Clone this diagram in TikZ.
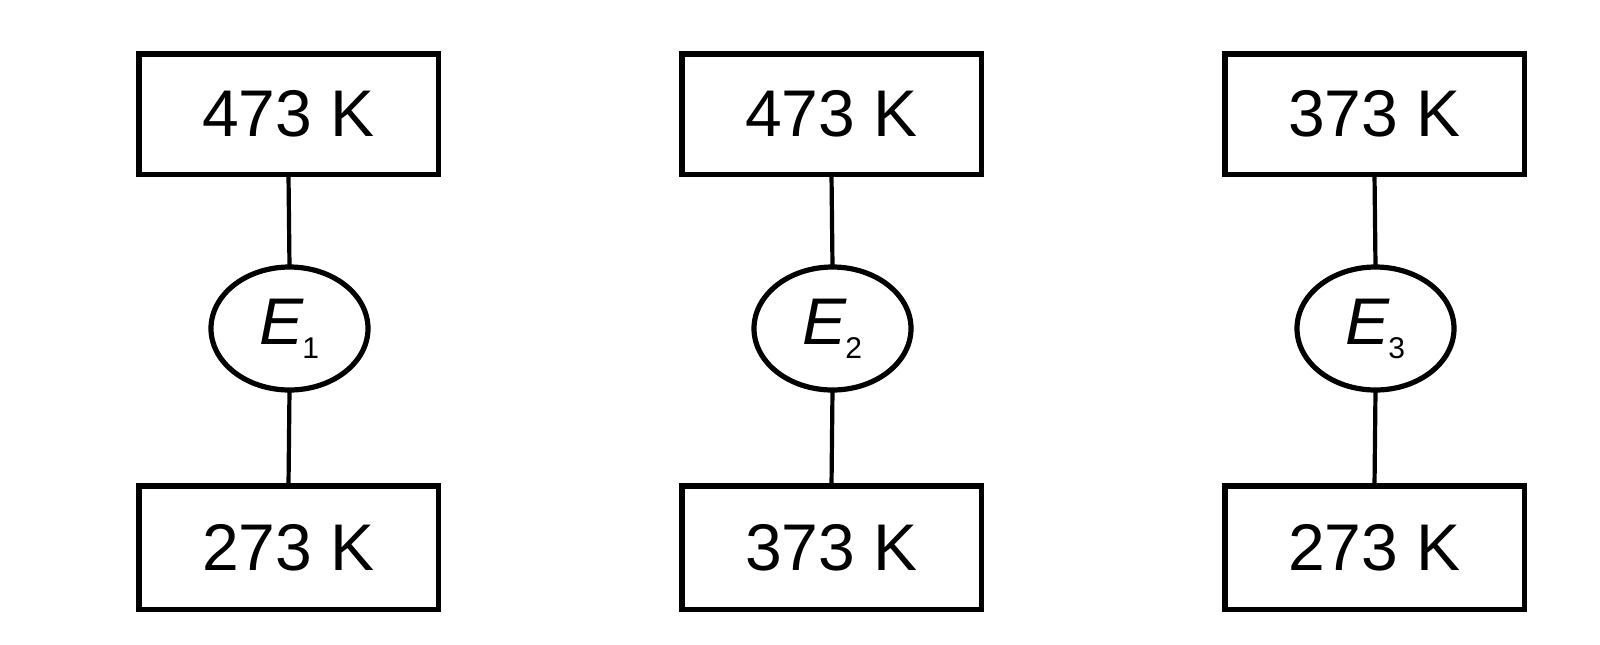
\documentclass[tikz,border=0pt]{standalone}
\usepackage{fontspec}
\setmainfont{Liberation Sans}
\usetikzlibrary{shapes.geometric}
\begin{document}
\begin{tikzpicture}[x=0.5pt,y=-0.5pt,
  tbox/.style={draw, line width=2.75pt, minimum width=149.75pt, inner sep=0pt, outer sep=0pt, font=\fontsize{33}{40}\selectfont},
  topbox/.style={tbox, minimum height=60.25pt},
  botbox/.style={tbox, minimum height=61.75pt},
  eng/.style={draw, ellipse, line width=2.6pt, minimum width=78.5pt, minimum height=61.5pt, inner sep=0pt, outer sep=0pt, font=\fontsize{33}{40}\selectfont},
  link/.style={line width=2.1pt}]
\useasboundingbox (0,0) rectangle (1600,644);
\newcommand{\engname}[1]{\textit{E}\kern-1pt\raisebox{-7pt}{\fontsize{15}{15}\selectfont #1}}
% column 1
\node[topbox] (t1) at (288.5,114) {473 K};
\node[eng] (e1) at (289.5,328.5) {\engname{1}};
\node[botbox] (b1) at (288.5,547.5) {273 K};
% column 2
\node[topbox] (t2) at (831.5,114) {473 K};
\node[eng] (e2) at (832.5,328.5) {\engname{2}};
\node[botbox] (b2) at (831.5,547.5) {373 K};
% column 3
\node[topbox] (t3) at (1374.5,114) {373 K};
\node[eng] (e3) at (1375.5,328.5) {\engname{3}};
\node[botbox] (b3) at (1374.5,547.5) {273 K};
% connectors
\foreach \i in {1,2,3}{
  \draw[link] (t\i.south) -- (e\i.north);
  \draw[link] (e\i.south) -- (b\i.north);
}
\end{tikzpicture}
\end{document}
